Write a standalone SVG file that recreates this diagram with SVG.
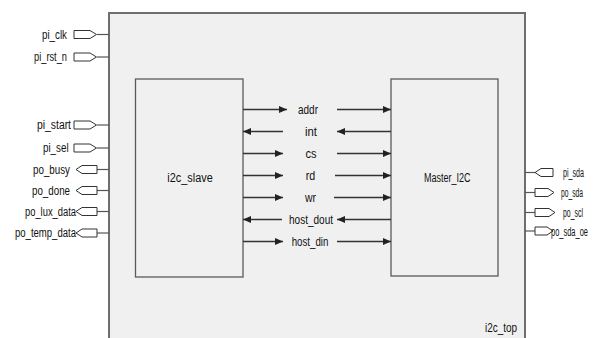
<svg xmlns="http://www.w3.org/2000/svg" width="615" height="338" viewBox="0 0 615 338">
<style>
text{font-family:"Liberation Sans",Arial,sans-serif;fill:#111}
.l{font-size:12px}
.r{font-size:12.5px}
.m{font-size:12px;text-anchor:middle}
.port{fill:#fff;stroke:#333;stroke-width:1}
.stub{stroke:#555;stroke-width:1.2}
.sig{stroke:#333;stroke-width:1.3;fill:none}
.blk{fill:#f0f0f0;stroke:#5a5a5a;stroke-width:1.3}
</style>
<defs>
<marker id="ah" viewBox="0 0 8 7" refX="8" refY="3.5" markerWidth="8" markerHeight="7" markerUnits="userSpaceOnUse" orient="auto">
<path d="M0,0 L8,3.5 L0,7 Z" fill="#222"/>
</marker>
</defs>
<rect width="615" height="338" fill="#fff"/>
<g id="i2c_top">
<rect x="109" y="13" width="416" height="340" fill="#f0f0f0" stroke="#6e6e6e" stroke-width="2"/>
<text class="l" x="485" y="332" textLength="32" lengthAdjust="spacingAndGlyphs">i2c_top</text>
</g>
<g id="i2c_slave">
<rect class="blk" x="135.5" y="79" width="107.5" height="198"/>
<text class="m" x="190" y="181.5" textLength="45.4" lengthAdjust="spacingAndGlyphs">i2c_slave</text>
</g>
<g id="master_i2c">
<rect class="blk" x="391" y="79" width="107" height="197"/>
<text class="m" x="447.3" y="181.5" textLength="46.7" lengthAdjust="spacingAndGlyphs">Master_I2C</text>
</g>
<g id="left_ports">
<g id="pi_clk"><line class="stub" x1="97" y1="34.5" x2="109" y2="34.5"/><path class="port" d="M74,30.5 H90 L96.5,34.5 L90,38.5 H74 Z"/><text class="l" x="42" y="38.5" textLength="25" lengthAdjust="spacingAndGlyphs">pi_clk</text></g>
<g id="pi_rst_n"><line class="stub" x1="97" y1="57" x2="109" y2="57"/><path class="port" d="M74,53 H90 L96.5,57 L90,61 H74 Z"/><text class="l" x="34" y="61" textLength="33" lengthAdjust="spacingAndGlyphs">pi_rst_n</text></g>
<g id="pi_start"><line class="stub" x1="97" y1="125" x2="109" y2="125"/><path class="port" d="M74,121 H90 L96.5,125 L90,129 H74 Z"/><text class="l" x="37" y="129" textLength="34" lengthAdjust="spacingAndGlyphs">pi_start</text></g>
<g id="pi_sel"><line class="stub" x1="97" y1="148" x2="109" y2="148"/><path class="port" d="M74,144 H90 L96.5,148 L90,152 H74 Z"/><text class="l" x="43" y="152" textLength="25.6" lengthAdjust="spacingAndGlyphs">pi_sel</text></g>
<g id="po_busy"><line class="stub" x1="97" y1="169.5" x2="109" y2="169.5"/><path class="port" d="M76,169.5 L82,165.5 H97 V173.5 H82 Z"/><text class="l" x="33" y="173.5" textLength="37" lengthAdjust="spacingAndGlyphs">po_busy</text></g>
<g id="po_done"><line class="stub" x1="97" y1="190.5" x2="109" y2="190.5"/><path class="port" d="M76,190.5 L82,186.5 H97 V194.5 H82 Z"/><text class="l" x="32" y="194.5" textLength="38" lengthAdjust="spacingAndGlyphs">po_done</text></g>
<g id="po_lux_data"><line class="stub" x1="97" y1="211.5" x2="109" y2="211.5"/><path class="port" d="M76,211.5 L82,207.5 H97 V215.5 H82 Z"/><text class="l" x="25" y="215.5" textLength="51" lengthAdjust="spacingAndGlyphs">po_lux_data</text></g>
<g id="po_temp_data"><line class="stub" x1="97" y1="233" x2="109" y2="233"/><path class="port" d="M76,233 L82,229 H97 V237 H82 Z"/><text class="l" x="15" y="237" textLength="61" lengthAdjust="spacingAndGlyphs">po_temp_data</text></g>
</g>
<g id="right_ports">
<g id="pi_sda"><line class="stub" x1="525" y1="172.5" x2="535" y2="172.5"/><path class="port" d="M535,172.5 L541,168.5 H553 V176.5 H541 Z"/><text class="r" x="563" y="177" textLength="21" lengthAdjust="spacingAndGlyphs">pi_sda</text></g>
<g id="po_sda"><line class="stub" x1="525" y1="192.5" x2="535" y2="192.5"/><path class="port" d="M535,188.5 H548 L554,192.5 L548,196.5 H535 Z"/><text class="r" x="561" y="197" textLength="22" lengthAdjust="spacingAndGlyphs">po_sda</text></g>
<g id="po_scl"><line class="stub" x1="525" y1="212.5" x2="535" y2="212.5"/><path class="port" d="M535,208.5 H549 L555,212.5 L549,216.5 H535 Z"/><text class="r" x="563" y="217" textLength="20" lengthAdjust="spacingAndGlyphs">po_scl</text></g>
<g id="po_sda_oe"><line class="stub" x1="525" y1="231" x2="535" y2="231"/><path class="port" d="M535,227 H547 L553,231 L547,235 H535 Z"/><text class="r" x="551" y="235.5" textLength="37" lengthAdjust="spacingAndGlyphs">po_sda_oe</text></g>
</g>
<g id="connectors">
<line class="sig" x1="243" y1="109.5" x2="287" y2="109.5" marker-end="url(#ah)"/>
<line class="sig" x1="337" y1="109.5" x2="391" y2="109.5" marker-end="url(#ah)"/>
<line class="sig" x1="391" y1="131.5" x2="337" y2="131.5" marker-end="url(#ah)"/>
<line class="sig" x1="283" y1="131.5" x2="243" y2="131.5" marker-end="url(#ah)"/>
<line class="sig" x1="243" y1="153.5" x2="283" y2="153.5" marker-end="url(#ah)"/>
<line class="sig" x1="337" y1="153.5" x2="391" y2="153.5" marker-end="url(#ah)"/>
<line class="sig" x1="243" y1="175.5" x2="283" y2="175.5" marker-end="url(#ah)"/>
<line class="sig" x1="335" y1="175.5" x2="391" y2="175.5" marker-end="url(#ah)"/>
<line class="sig" x1="243" y1="197.5" x2="283" y2="197.5" marker-end="url(#ah)"/>
<line class="sig" x1="334" y1="197.5" x2="391" y2="197.5" marker-end="url(#ah)"/>
<line class="sig" x1="391" y1="219.5" x2="337" y2="219.5" marker-end="url(#ah)"/>
<line class="sig" x1="282" y1="219.5" x2="243" y2="219.5" marker-end="url(#ah)"/>
<line class="sig" x1="243" y1="241.5" x2="283" y2="241.5" marker-end="url(#ah)"/>
<line class="sig" x1="337" y1="241.5" x2="391" y2="241.5" marker-end="url(#ah)"/>
<text class="m" x="308" y="114" textLength="20" lengthAdjust="spacingAndGlyphs">addr</text>
<text class="m" x="311" y="136" textLength="12" lengthAdjust="spacingAndGlyphs">int</text>
<text class="m" x="311" y="158" textLength="11" lengthAdjust="spacingAndGlyphs">cs</text>
<text class="m" x="310.5" y="180" textLength="9.5" lengthAdjust="spacingAndGlyphs">rd</text>
<text class="m" x="310.5" y="202" textLength="11" lengthAdjust="spacingAndGlyphs">wr</text>
<text class="m" x="311" y="224" textLength="44" lengthAdjust="spacingAndGlyphs">host_dout</text>
<text class="m" x="310" y="246" textLength="36.7" lengthAdjust="spacingAndGlyphs">host_din</text>
</g>
</svg>
